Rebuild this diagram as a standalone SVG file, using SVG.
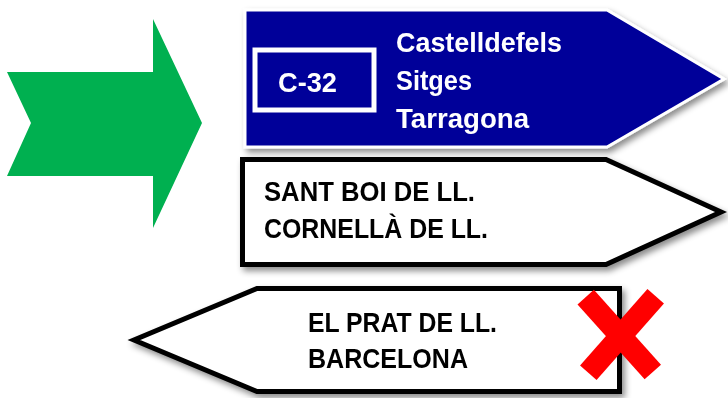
<svg xmlns="http://www.w3.org/2000/svg" width="728" height="398" viewBox="0 0 728 398">
<defs>
<filter id="sh" x="-10%" y="-20%" width="120%" height="150%">
<feDropShadow dx="3" dy="4" stdDeviation="3" flood-color="#000" flood-opacity="0.45"/>
</filter>
</defs>
<style>
.t{font-family:"Liberation Sans",Arial,sans-serif;font-weight:bold;font-size:28px}
.w{fill:#fff}
.k{fill:#000}
.sign{stroke:#000;stroke-width:5;fill:#fff;stroke-linejoin:miter}
</style>
<rect width="728" height="398" fill="#fff"/>
<g id="green-arrow">
<polygon points="7,72 153,72 153,19 202,123 153,228 153,176 7,176 31,123" fill="#00B050"/>
</g>
<g id="sign-c32" filter="url(#sh)">
<polygon points="245,10 607,10 724,79 607,147 245,147" fill="#000099" stroke="#fff" stroke-width="3"/>
<rect x="255" y="50" width="119" height="60" fill="none" stroke="#fff" stroke-width="5"/>
<text class="t w" x="278" y="92" textLength="59" lengthAdjust="spacingAndGlyphs">C-32</text>
<text class="t w" x="396" y="52" textLength="166" lengthAdjust="spacingAndGlyphs">Castelldefels</text>
<text class="t w" x="396" y="90" textLength="76" lengthAdjust="spacingAndGlyphs">Sitges</text>
<text class="t w" x="396" y="128" textLength="133" lengthAdjust="spacingAndGlyphs">Tarragona</text>
</g>
<g id="sign-santboi" filter="url(#sh)">
<polygon class="sign" points="242.5,159.5 606,159.5 721,212 606,264.5 242.5,264.5"/>
<text class="t k" x="264" y="201" textLength="211" lengthAdjust="spacingAndGlyphs">SANT BOI DE LL.</text>
<text class="t k" x="264" y="238" textLength="224" lengthAdjust="spacingAndGlyphs">CORNELLÀ DE LL.</text>
</g>
<g id="sign-elprat" filter="url(#sh)">
<polygon class="sign" points="257,288.5 619.5,288.5 619.5,391.5 257,391.5 134,340"/>
<text class="t k" x="308" y="332" textLength="189" lengthAdjust="spacingAndGlyphs">EL PRAT DE LL.</text>
<text class="t k" x="308" y="368" textLength="160" lengthAdjust="spacingAndGlyphs">BARCELONA</text>
</g>
<g id="red-x" stroke="#FF0000" stroke-width="22">
<line x1="585.7" y1="297.2" x2="652.8" y2="372"/>
<line x1="655.7" y1="296.2" x2="588.3" y2="372.8"/>
</g>
</svg>
